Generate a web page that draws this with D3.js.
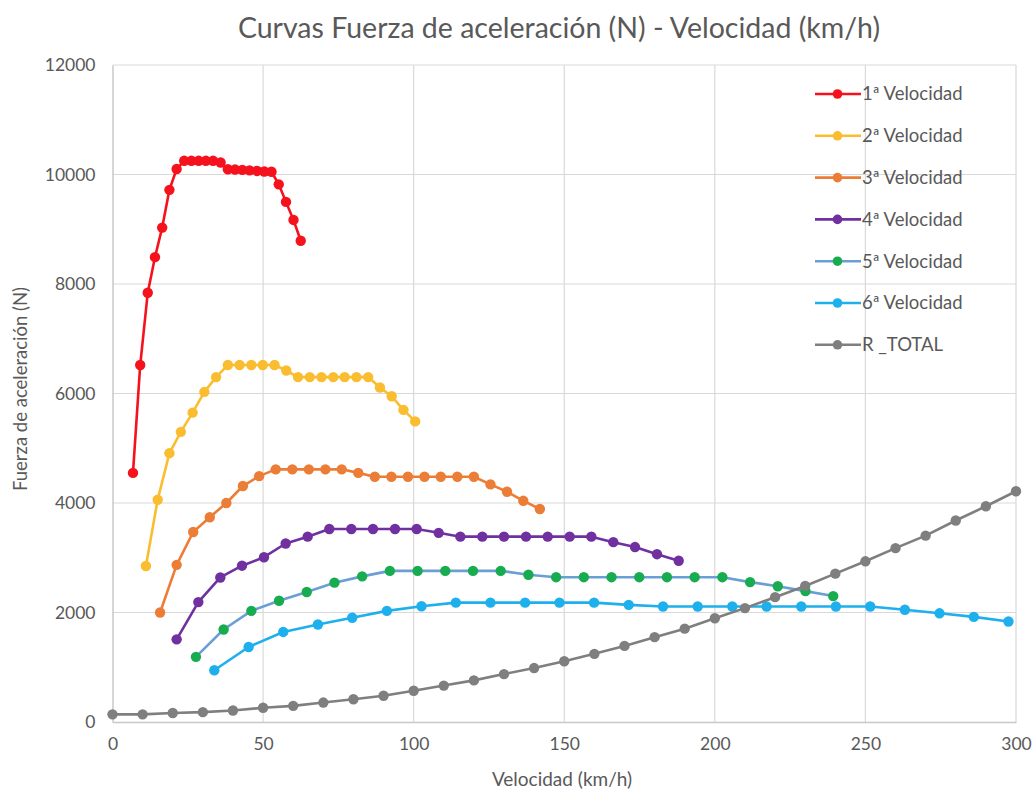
<!DOCTYPE html>
<html>
<head>
<meta charset="utf-8">
<script src="https://cdn.jsdelivr.net/npm/d3@7"></script>
<style>
  html, body { margin: 0; padding: 0; background: #ffffff; }
  svg { display: block; }
  text { font-family: Lato, "Open Sans", sans-serif; fill: #595959; }
</style>
</head>
<body>
<svg id="chart" width="1036" height="792"></svg>
<script>
// Velocity (km/h) and tractive force (N) for each gear
const v1 = [6.8, 9.2, 11.7, 14.1, 16.5, 18.9, 21.3, 23.8, 26.2, 28.6, 31.0, 33.4, 35.9, 38.3, 40.7, 43.1, 45.5, 48.0, 50.4, 52.8, 55.2, 57.6, 60.1, 62.5];
const f1 = [4550, 6520, 7840, 8490, 9030, 9720, 10100, 10250, 10250, 10250, 10250, 10250, 10220, 10095, 10090, 10085, 10075, 10065, 10055, 10050, 9820, 9500, 9170, 8790];

const v2 = [11.1, 15.0, 18.9, 22.7, 26.6, 30.5, 34.4, 38.3, 42.2, 46.1, 49.9, 53.8, 57.7, 61.6, 65.5, 69.4, 73.3, 77.1, 81.0, 84.9, 88.8, 92.7, 96.6, 100.5];
const f2 = [2850, 4060, 4910, 5300, 5650, 6030, 6300, 6520, 6520, 6520, 6520, 6520, 6420, 6300, 6300, 6300, 6300, 6300, 6300, 6300, 6110, 5950, 5700, 5490];

const v3 = [15.8, 21.3, 26.8, 32.3, 37.8, 43.3, 48.7, 54.2, 59.7, 65.2, 70.7, 76.1, 81.6, 87.1, 92.6, 98.1, 103.6, 109.0, 114.5, 120.0, 125.5, 131.0, 136.4, 141.9];
const f3 = [2000, 2870, 3470, 3740, 4000, 4310, 4490, 4615, 4615, 4615, 4615, 4615, 4550, 4480, 4480, 4480, 4480, 4480, 4480, 4480, 4340, 4205, 4040, 3890];

const v4 = [21.3, 28.5, 35.8, 43.0, 50.3, 57.5, 64.8, 72.0, 79.3, 86.5, 93.8, 101.0, 108.3, 115.5, 122.8, 130.0, 137.3, 144.5, 151.8, 159.0, 166.3, 173.5, 180.8, 188.0];
const f4 = [1510, 2190, 2640, 2855, 3010, 3260, 3385, 3525, 3525, 3525, 3525, 3525, 3455, 3385, 3385, 3385, 3385, 3385, 3385, 3385, 3285, 3195, 3065, 2945];

const v5 = [27.7, 36.9, 46.1, 55.3, 64.5, 73.7, 82.9, 92.1, 101.3, 110.5, 119.7, 128.9, 138.1, 147.3, 156.5, 165.7, 174.9, 184.1, 193.3, 202.5, 211.7, 220.9, 230.1, 239.3];
const f5 = [1190, 1690, 2030, 2215, 2375, 2545, 2660, 2760, 2760, 2760, 2760, 2760, 2690, 2645, 2645, 2645, 2645, 2645, 2645, 2645, 2555, 2480, 2390, 2300];

const v6 = [33.8, 45.2, 56.7, 68.2, 79.6, 91.1, 102.6, 114.0, 125.5, 137.0, 148.4, 159.9, 171.4, 182.8, 194.3, 205.8, 217.2, 228.7, 240.2, 251.6, 263.1, 274.6, 286.0, 297.5];
const f6 = [945, 1370, 1645, 1780, 1905, 2030, 2115, 2180, 2180, 2180, 2180, 2180, 2140, 2110, 2110, 2110, 2110, 2110, 2110, 2110, 2050, 1985, 1920, 1835];

// Total driving resistance
const vR = [0, 10, 20, 30, 40, 50, 60, 70, 80, 90, 100, 110, 120, 130, 140, 150, 160, 170, 180, 190, 200, 210, 220, 230, 240, 250, 260, 270, 280, 290, 300];
const fR = [140, 140, 165, 180, 210, 260, 295, 355, 415, 480, 570, 665, 760, 875, 985, 1110, 1245, 1390, 1550, 1705, 1895, 2080, 2280, 2485, 2710, 2935, 3175, 3405, 3680, 3940, 4215];

const seriesNames = ["1ª Velocidad", "2ª Velocidad", "3ª Velocidad", "4ª Velocidad", "5ª Velocidad", "6ª Velocidad", "R _TOTAL"];
const xTicks = [0, 50, 100, 150, 200, 250, 300];
const yTicks = [0, 2000, 4000, 6000, 8000, 10000, 12000];

const chartTitle = "Curvas Fuerza de aceleración (N) - Velocidad (km/h)";
const xTitle = "Velocidad (km/h)";
const yTitle = "Fuerza de aceleración (N)";

const styles = [
  { line: "#f5121d", marker: "#f5121d" },
  { line: "#fbbd30", marker: "#fbbd30" },
  { line: "#ec7d37", marker: "#ec7d37" },
  { line: "#7030a0", marker: "#7030a0" },
  { line: "#6a9fd6", marker: "#18ac50" },
  { line: "#1db0ec", marker: "#1db0ec" },
  { line: "#7f7f7f", marker: "#7f7f7f" }
];

const xs = [v1, v2, v3, v4, v5, v6, vR];
const ys = [f1, f2, f3, f4, f5, f6, fR];
const series = seriesNames.map((name, i) => ({
  name,
  style: styles[i],
  points: xs[i].map((v, j) => ({ v, f: ys[i][j] }))
}));

const svg = d3.select("#chart");

const plot = { left: 112.5, right: 1016, top: 65, bottom: 722 };
const x = d3.scaleLinear().domain([0, 300]).range([plot.left, plot.right]);
const y = d3.scaleLinear().domain([0, 12000]).range([plot.bottom, plot.top]);

// Gridlines
const grid = svg.append("g");
grid.selectAll("line.h").data(yTicks.filter(d => d > 0)).join("line")
  .attr("x1", plot.left).attr("x2", plot.right)
  .attr("y1", d => y(d)).attr("y2", d => y(d))
  .attr("stroke", "#d9d9d9").attr("stroke-width", 1.2);
grid.selectAll("line.v").data(xTicks.filter(d => d > 0)).join("line")
  .attr("y1", plot.top).attr("y2", plot.bottom)
  .attr("x1", d => x(d)).attr("x2", d => x(d))
  .attr("stroke", "#d9d9d9").attr("stroke-width", 1.2);

// Axes
const xAxis = d3.axisBottom(x).tickValues(xTicks).tickSize(0).tickPadding(16).tickFormat(d3.format("d"));
const yAxis = d3.axisLeft(y).tickValues(yTicks).tickSize(0).tickPadding(17).tickFormat(d3.format("d"));

const gx = svg.append("g").attr("transform", `translate(0,${plot.bottom})`).call(xAxis);
const gy = svg.append("g").attr("transform", `translate(${plot.left},0)`).call(yAxis);
[gx, gy].forEach(g => {
  g.select(".domain").attr("stroke", "#c8c8c8").attr("stroke-width", 1.5);
  g.selectAll("text").attr("font-size", 17.5).attr("fill", "#595959")
    .style("font-family", "Lato, 'Open Sans', sans-serif");
});

// Series
const lineGen = d3.line().x(d => x(d.v)).y(d => y(d.f));
const gs = svg.append("g").selectAll("g").data(series).join("g");
gs.append("path")
  .attr("d", d => lineGen(d.points))
  .attr("fill", "none")
  .attr("stroke", d => d.style.line)
  .attr("stroke-width", 2.6)
  .attr("stroke-linejoin", "round");
gs.selectAll("circle").data(d => d.points.map(p => ({ p, s: d.style }))).join("circle")
  .attr("cx", d => x(d.p.v))
  .attr("cy", d => y(d.p.f))
  .attr("r", 5.2)
  .attr("fill", d => d.s.marker);

// Legend
const legend = svg.append("g").attr("transform", "translate(815,94)");
const items = legend.selectAll("g").data(series).join("g")
  .attr("transform", (d, i) => `translate(0,${i * 41.8})`);
items.append("line")
  .attr("x1", 0).attr("x2", 46).attr("y1", 0).attr("y2", 0)
  .attr("stroke", d => d.style.line).attr("stroke-width", 2.6);
items.append("circle").attr("cx", 22.5).attr("cy", 0).attr("r", 4.8)
  .attr("fill", d => d.style.marker);
items.append("text").attr("x", 47).attr("y", 0).attr("dy", "0.35em")
  .attr("font-size", 18.5).text(d => d.name);

// Titles
svg.append("text").attr("x", 559).attr("y", 38).attr("text-anchor", "middle")
  .attr("font-size", 28.5).text(chartTitle);
svg.append("text").attr("x", 562).attr("y", 786).attr("text-anchor", "middle")
  .attr("font-size", 19).text(xTitle);
svg.append("text").attr("transform", "translate(27,389) rotate(-90)")
  .attr("text-anchor", "middle").attr("font-size", 18.5).text(yTitle);
</script>
</body>
</html>
